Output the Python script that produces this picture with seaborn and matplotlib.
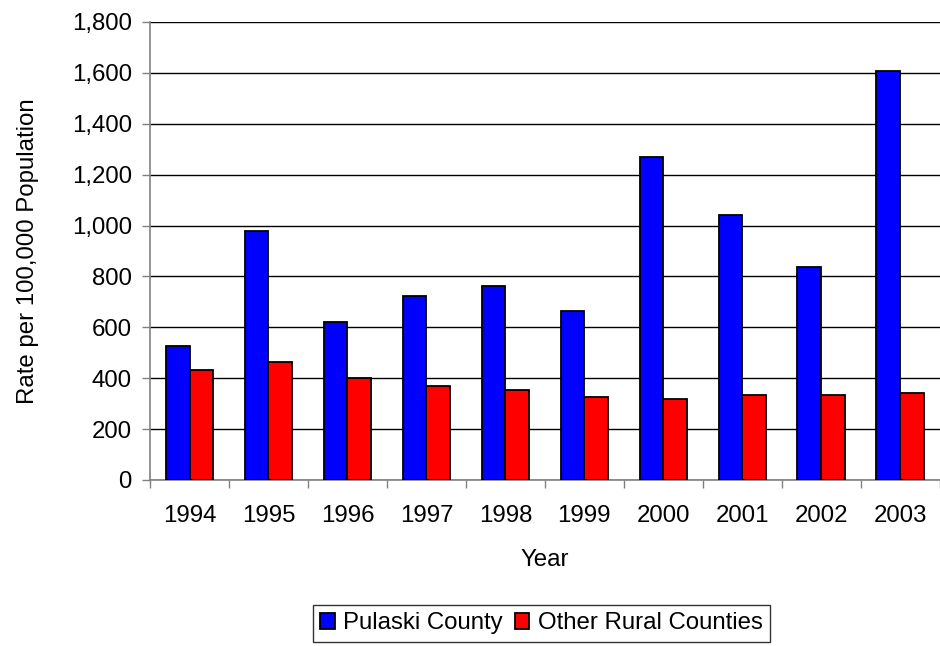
import pandas as pd
import matplotlib.pyplot as plt
import seaborn as sns
import numpy as np
from matplotlib.ticker import FuncFormatter, FixedLocator

# 데이터
years = ["1994", "1995", "1996", "1997", "1998", "1999", "2000", "2001", "2002", "2003"]
pulaski = [527, 978, 622, 725, 764, 665, 1270, 1042, 837, 1608]
other_rural = [432, 465, 401, 370, 355, 325, 317, 334, 334, 342]
series_names = ["Pulaski County", "Other Rural Counties"]

df = pd.DataFrame({
    "Year": years * 2,
    "Rate": pulaski + other_rural,
    "Group": [series_names[0]] * len(years) + [series_names[1]] * len(years),
})

sns.set_style("white")
plt.rcParams['font.family'] = ['Liberation Sans', 'DejaVu Sans']
plt.rcParams['text.color'] = 'black'
plt.rcParams['axes.labelcolor'] = 'black'
plt.rcParams['xtick.color'] = 'black'
plt.rcParams['ytick.color'] = 'black'

fs = 17.3

fig = plt.figure(figsize=(9.4, 6.46), dpi=100)
ax = fig.add_axes([0.1596, 0.257, 0.84, 0.709])

sns.barplot(data=df, x="Year", y="Rate", hue="Group",
            palette=["#0000FF", "#FF0000"], width=0.6,
            edgecolor="black", linewidth=1.3, saturation=1, ax=ax, zorder=3)

ax.set_ylim(0, 1800)
ax.set_xlim(-0.5, len(years) - 0.5)
ax.set_yticks(np.arange(0, 1801, 200))
ax.yaxis.set_major_formatter(FuncFormatter(lambda v, p: f"{int(v):,}"))
ax.yaxis.grid(True, color="black", linewidth=1.0, zorder=0)
ax.set_axisbelow(True)

# 그룹 경계 눈금
ax.xaxis.set_minor_locator(FixedLocator(np.arange(-0.5, len(years), 1.0)))
ax.tick_params(axis="x", which="major", length=0, labelsize=fs, pad=18)
ax.tick_params(axis="x", which="minor", length=6, color="#808080", width=1, direction="out", bottom=True)
ax.tick_params(axis="y", which="major", length=6, color="#808080", width=1, direction="out", left=True, labelsize=fs, pad=7)

for s in ["top", "right"]:
    ax.spines[s].set_visible(False)
for s in ["left", "bottom"]:
    ax.spines[s].set_color("#808080")
    ax.spines[s].set_linewidth(1.2)

ax.set_xlabel("Year", fontsize=fs, labelpad=16)
ax.set_ylabel("Rate per 100,000 Population", fontsize=fs, labelpad=24)

handles, labels = ax.get_legend_handles_labels()
ax.legend_.remove()
leg = fig.legend(handles, labels, loc="center", bbox_to_anchor=(0.576, 0.035),
                 ncol=2, frameon=True, fancybox=False, fontsize=fs,
                 handlelength=0.6, handleheight=0.6, handletextpad=0.35,
                 columnspacing=0.5, borderpad=0.3)
leg.get_frame().set_edgecolor("black")
leg.get_frame().set_linewidth(1.0)

fig.savefig("out.png", dpi=100)
